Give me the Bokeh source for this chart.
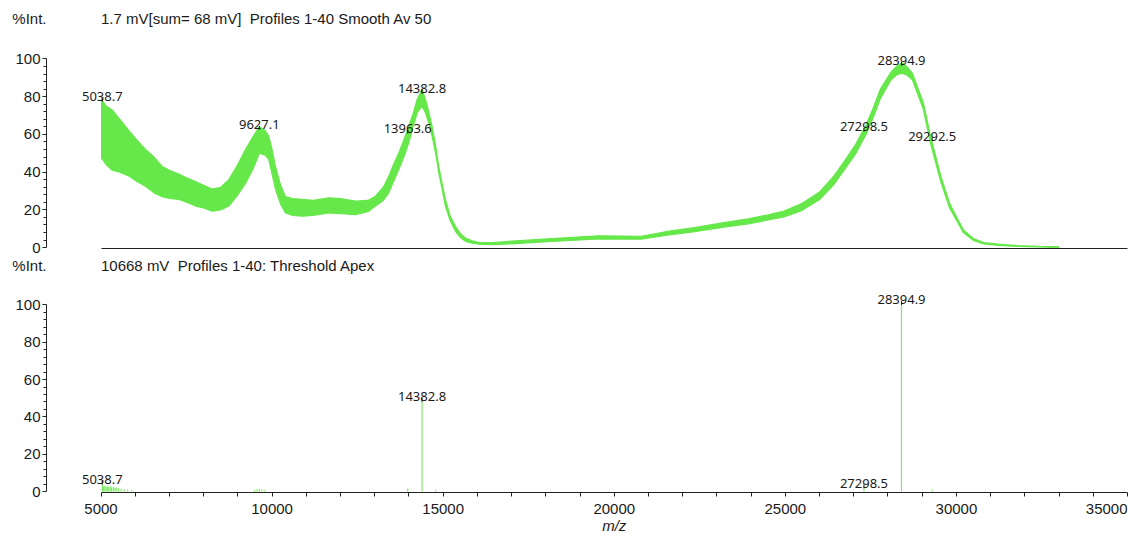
from bokeh.plotting import figure
from bokeh.layouts import column
from bokeh.models import Range1d, FixedTicker
from bokeh.embed import file_html
from bokeh.resources import INLINE
from bokeh.core.properties import value

# ---------------- data ----------------
# smoothed profile (upper / lower edge of the noisy trace), %Int.
profile_mz = [5000, 5040, 5150, 5327, 5550, 5813, 6050, 6300, 6550, 6788, 7000, 7274,
              7500, 7761, 8000, 8249, 8500, 8735, 9000, 9222, 9450, 9627, 9800, 9903,
              10000, 10099, 10250, 10391, 10600, 10879, 11200, 11657, 12000, 12437,
              12800, 13021, 13250, 13410, 13550, 13702, 13850, 13994, 14120, 14240,
              14383, 14482, 14580, 14677, 14780, 14871, 14970, 15066, 15200, 15358,
              15500, 15650, 15850, 16040, 16431, 17000, 18176, 19534, 20785, 21500,
              22351, 23200, 23917, 24500, 24960, 25480, 26003, 26421, 26734, 27047,
              27359, 27569, 27777, 28090, 28250, 28403, 28550, 28712, 29031, 29238,
              29551, 29800, 29969, 30200, 30491, 30800, 31222, 31800, 32366, 33000]
profile_upper = [79, 78, 75, 73, 68, 62, 57, 52, 48, 43, 41, 39,
                 37, 35, 33, 31, 32, 36, 44, 52, 59, 64, 62, 59,
                 52, 43, 33, 27, 26, 25.5, 25, 26.4, 26, 24.6,
                 25, 27.2, 32, 37.8, 44, 50.2, 57, 64.3, 71, 78.5,
                 84, 78.5, 72, 64.3, 54, 43, 34, 25.5, 17, 11.3,
                 7.5, 5.1, 3.6, 2.8, 2.6, 3.4, 4.8, 6.2, 6.0, 8.4,
                 10.6, 13.2, 15.2, 17.4, 19.4, 23.4, 29.5, 38, 46, 54.5,
                 65, 74, 84, 93, 96, 98, 96, 92.5, 77, 59.5,
                 37.5, 23.5, 17.5, 9.5, 4.8, 2.6, 1.8, 1.0, 0.7, 0.4]
profile_lower = [47, 47, 44, 41, 40, 38, 35, 32.5, 29, 27, 26, 25.5,
                 24, 22, 21, 19.3, 20, 22, 28, 34, 42, 50, 49, 46.7,
                 39, 31, 23, 18.4, 17, 16.6, 17, 18.4, 18, 17.5,
                 19, 22, 25, 29, 35, 41.4, 48, 55.5, 64, 71.5,
                 75, 71.5, 66, 59, 50, 39.6, 31, 22, 14.5, 8.6,
                 5.5, 3.3, 2.3, 1.8, 1.6, 2.0, 3.2, 4.6, 4.4, 6.4,
                 8.4, 10.8, 12.6, 14.6, 16.2, 19.6, 25.5, 33.5, 41.5, 49.5,
                 60, 69, 79, 89, 91.5, 92.5, 91.5, 89, 73.5, 55.5,
                 34.5, 21, 15.5, 8, 3.8, 1.9, 1.2, 0.6, 0.3, 0.1]

# labelled peaks of the profile panel
top_peak_mz = [5038.7, 9627.1, 13963.6, 14382.8, 27298.5, 28394.9, 29292.5]
top_peak_int = [77.5, 62.5, 60.5, 81.5, 61.5, 96.5, 56.5]

# threshold-apex peak list (stick spectrum), %Int.
stick_mz = [5038.7, 5075, 5110, 5150, 5190, 5230, 5270, 5310, 5360, 5410, 5460, 5520,
            5590, 5680, 5780, 5900, 9480, 9560, 9627.1, 9700, 9790, 13963.6, 14382.8,
            14780, 27298.5, 28394.9, 29292.5]
stick_int = [3.7, 2.9, 3.1, 2.6, 2.9, 2.5, 2.7, 2.3, 2.5, 2.1, 2.2, 1.8,
             1.5, 1.2, 1.0, 0.8, 0.8, 1.2, 1.5, 1.3, 0.9, 1.6, 48.0,
             1.0, 1.8, 100.0, 1.0]
bottom_peak_mz = [5038.7, 14382.8, 27298.5, 28394.9]
bottom_peak_int = [3.7, 48.0, 1.8, 100.0]

y_ticks = [0, 20, 40, 60, 80, 100]
x_ticks = [5000, 10000, 15000, 20000, 25000, 30000, 35000]
x_title = "m/z"
y_title = "%Int."
header_top = "1.7 mV[sum= 68 mV]  Profiles 1-40 Smooth Av 50"
header_bottom = "10668 mV  Profiles 1-40: Threshold Apex"

# ---------------- styling ----------------
GREEN = "#66E84A"
STICK = "#7CEB64"
TXT = "#1a1a1a"
AXC = "#222222"
AXIS_FONT = "Liberation Sans"
PEAK_FONT = "Noto Sans"
W = 1133
LEFT, RIGHT = 46, 6

x_range = Range1d(3407.2, 35000)


def keep_spaces(s):
    # SVG collapses runs of spaces; keep the double gap visible
    return s.replace("  ", "\u00a0 ")


def bare(p):
    p.outline_line_color = None
    p.xgrid.visible = False
    p.ygrid.visible = False
    p.background_fill_color = "white"
    p.border_fill_color = "white"


def style_y(p):
    ax = p.yaxis[0]
    ax.ticker = FixedTicker(ticks=y_ticks,
                            minor_ticks=[v for v in range(0, 101, 4) if v % 20 != 0])
    ax.bounds = (0, 100)
    ax.major_tick_out = 4
    ax.major_tick_in = 0
    ax.minor_tick_out = 3
    ax.minor_tick_in = 0
    ax.major_label_standoff = 2
    ax.major_label_text_font = AXIS_FONT
    ax.major_label_text_font_size = "15px"
    ax.major_label_text_color = TXT
    ax.axis_line_color = AXC
    ax.major_tick_line_color = AXC
    ax.minor_tick_line_color = AXC


def header_fig(height, frame_h, right_text):
    h = figure(width=W, height=height, x_range=x_range, y_range=Range1d(frame_h, 0),
               output_backend="svg", toolbar_location=None, x_axis_type=None,
               min_border_left=LEFT, min_border_right=RIGHT, min_border_top=0,
               min_border_bottom=height - frame_h)
    bare(h)
    ya = h.yaxis[0]
    ya.ticker = FixedTicker(ticks=[])
    ya.axis_line_color = None
    ya.major_tick_out = 0
    ya.minor_tick_out = 0
    ya.major_label_standoff = 0
    ya.axis_label = y_title
    ya.axis_label_orientation = "horizontal"
    ya.axis_label_standoff = 0
    ya.axis_label_text_font = AXIS_FONT
    ya.axis_label_text_font_size = "15px"
    ya.axis_label_text_font_style = "normal"
    ya.axis_label_text_color = TXT
    h.text(x=[x_ticks[0]], y=[frame_h / 2], text=[keep_spaces(right_text)],
           text_font=value(AXIS_FONT), text_font_size="15px", text_color=TXT,
           text_align="left", text_baseline="middle")
    return h


# ---------------- header 1 ----------------
h1 = header_fig(40, 36, header_top)

# ---------------- top panel: profile ----------------
p1 = figure(width=W, height=216, x_range=x_range, y_range=Range1d(-0.5, 109.8),
            output_backend="svg", toolbar_location=None,
            min_border_left=LEFT, min_border_right=RIGHT, min_border_top=0, min_border_bottom=8)
bare(p1)
style_y(p1)
xa1 = p1.xaxis[0]
xa1.ticker = FixedTicker(ticks=[])
xa1.bounds = (5000, 35000)
xa1.major_tick_out = 0
xa1.minor_tick_out = 0
xa1.major_label_standoff = 0
xa1.axis_line_color = AXC

p1.varea(x=profile_mz, y1=profile_lower, y2=profile_upper, fill_color=GREEN, fill_alpha=1.0)
p1.line(x=profile_mz, y=profile_upper, line_color=GREEN, line_width=1.2)
p1.line(x=profile_mz, y=profile_lower, line_color=GREEN, line_width=1.2)

p1.segment(x0=top_peak_mz, y0=top_peak_int, x1=top_peak_mz,
           y1=[v + 2.0 for v in top_peak_int], line_color="#111111", line_width=1)
p1.text(x=top_peak_mz, y=top_peak_int, text=[f"{m:.1f}" for m in top_peak_mz],
        text_font=value(PEAK_FONT), text_font_size="13px", text_color=TXT,
        text_align="center", text_baseline="alphabetic", y_offset=-5)

# ---------------- header 2 ----------------
h2 = header_fig(29, 18, header_bottom)

# ---------------- bottom panel: peak list ----------------
p2 = figure(width=W, height=215, x_range=x_range, y_range=Range1d(-0.5, 110.4),
            output_backend="svg", toolbar_location=None,
            min_border_left=LEFT, min_border_right=RIGHT, min_border_top=0, min_border_bottom=8)
bare(p2)
style_y(p2)
xa2 = p2.xaxis[0]
xa2.ticker = FixedTicker(ticks=[], minor_ticks=list(range(5000, 35001, 1000)))
xa2.bounds = (5000, 35000)
xa2.major_tick_out = 4
xa2.major_tick_in = 0
xa2.minor_tick_out = 4
xa2.minor_tick_in = 0
xa2.major_label_standoff = 0
xa2.axis_line_color = AXC
xa2.major_tick_line_color = AXC
xa2.minor_tick_line_color = AXC

p2.segment(x0=stick_mz, y0=0, x1=stick_mz, y1=stick_int, line_color=STICK, line_width=1.2)
p2.segment(x0=bottom_peak_mz, y0=bottom_peak_int, x1=bottom_peak_mz,
           y1=[v + 2.0 for v in bottom_peak_int], line_color="#111111", line_width=1)
p2.text(x=bottom_peak_mz, y=bottom_peak_int, text=[f"{m:.1f}" for m in bottom_peak_mz],
        text_font=value(PEAK_FONT), text_font_size="13px", text_color=TXT,
        text_align="center", text_baseline="alphabetic", y_offset=-5)

# ---------------- footer: x tick labels and axis title (same x scale) ----------------
f = figure(width=W, height=34, x_range=x_range, y_range=Range1d(34, 0),
           output_backend="svg", toolbar_location=None,
           x_axis_type=None, y_axis_type=None,
           min_border_left=LEFT, min_border_right=RIGHT, min_border_top=0, min_border_bottom=0)
bare(f)
f.text(x=x_ticks[:-1], y=[8] * (len(x_ticks) - 1), text=[str(t) for t in x_ticks[:-1]],
       text_font=value(AXIS_FONT), text_font_size="15px", text_color=TXT,
       text_align="center", text_baseline="middle")
f.text(x=x_ticks[-1:], y=[8], text=[str(x_ticks[-1])],
       text_font=value(AXIS_FONT), text_font_size="15px", text_color=TXT,
       text_align="right", text_baseline="middle")
f.text(x=[(x_ticks[0] + x_ticks[-1]) / 2], y=[25], text=[x_title],
       text_font=value(AXIS_FONT), text_font_size="15px", text_font_style="italic",
       text_color=TXT, text_align="center", text_baseline="middle")

layout = column(h1, p1, h2, p2, f, spacing=0)
open("out.html", "w").write(file_html(layout, INLINE))
